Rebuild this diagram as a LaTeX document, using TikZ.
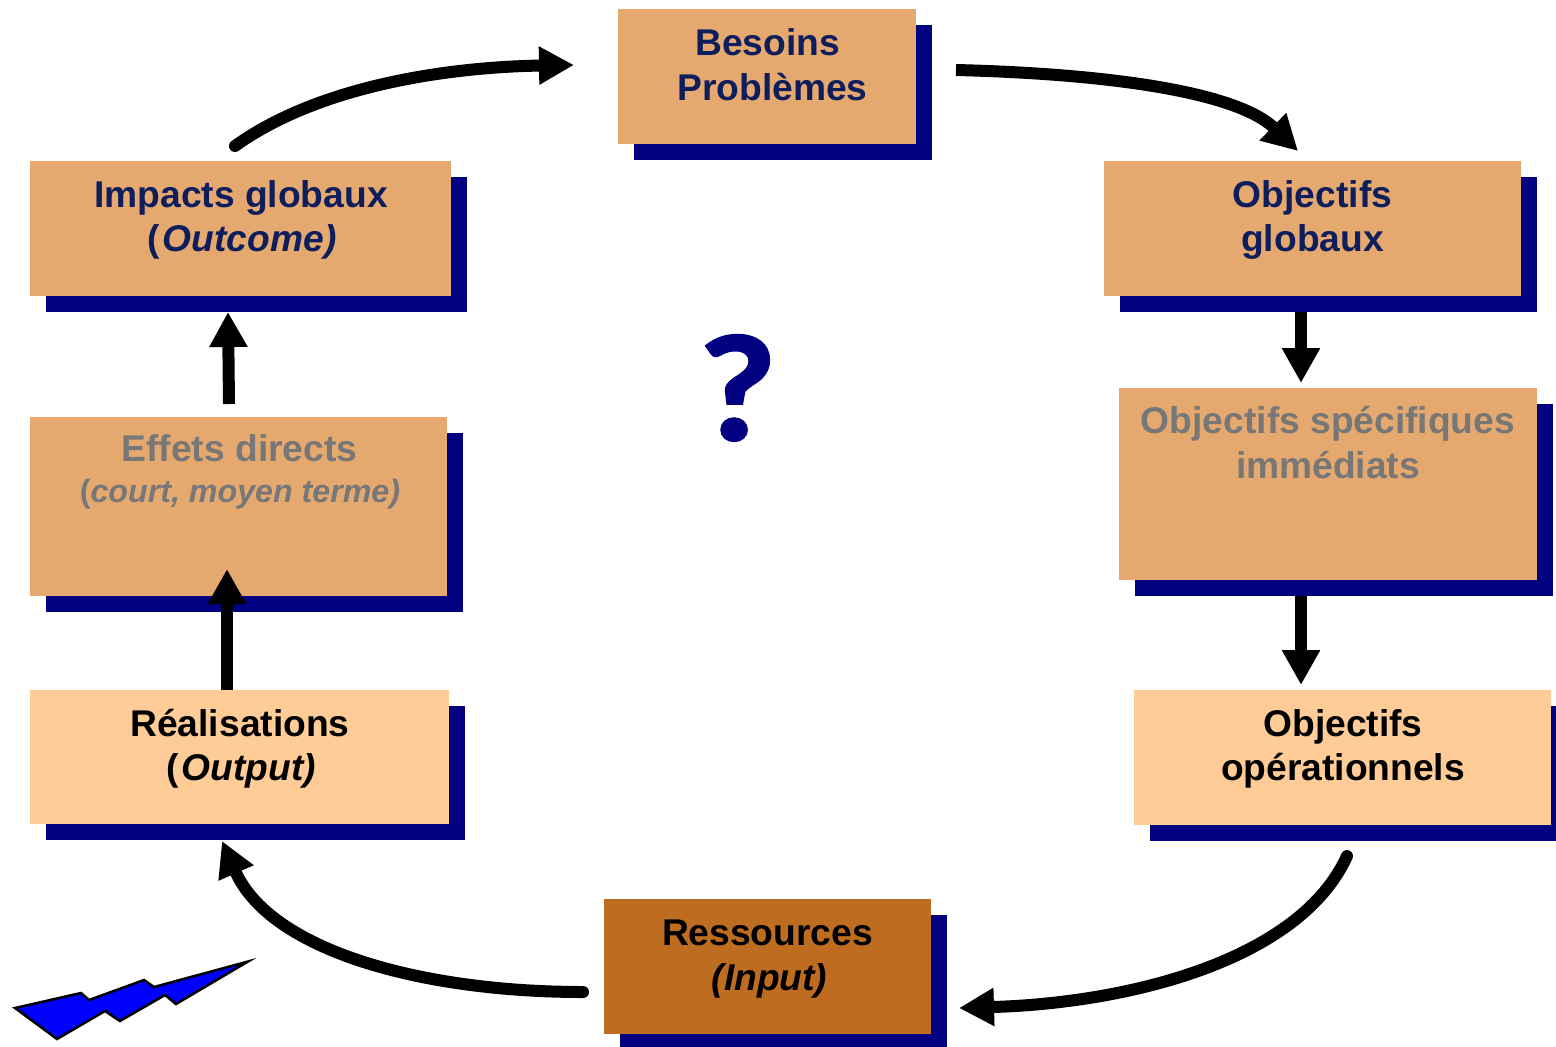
\documentclass[tikz,border=0pt]{standalone}
\usepackage{fontspec}
\setmainfont{Liberation Sans}
\newfontfamily\qfont[BoldFeatures={FakeBold=2.5,FakeStretch=1.12}]{Lato}
\usetikzlibrary{arrows.meta}
\definecolor{boxA}{HTML}{E5A96F}
\definecolor{boxB}{HTML}{FFCB96}
\definecolor{boxC}{HTML}{BE6D20}
\definecolor{navyshadow}{HTML}{000080}
\definecolor{txtA}{HTML}{0E1D5C}
\definecolor{txtG}{HTML}{777777}
\tikzset{x=1pt,y=-1pt,
 lab/.style={font=\bfseries\fontsize{37.2}{44.5}\selectfont,align=center,anchor=center,inner sep=0},
 conn/.style={line width=12pt,line cap=round,-{Triangle[length=35pt,width=36pt]}},
 connb/.style={line width=12pt,-{Triangle[length=35pt,width=36pt]}},
}
\begin{document}
\begin{tikzpicture}
\useasboundingbox (0,0) rectangle (1556,1047);
\newcommand{\mybox}[6]{%
 \fill[navyshadow] (#1+16,#2+16) rectangle (#3+16,#4+16);
 \fill[#5] (#1,#2) rectangle (#3,#4);
 \coordinate (#6) at (#1,#2);
}
\mybox{618}{9}{916}{144}{boxA}{bp}
\mybox{1104}{161}{1521}{296}{boxA}{og}
\mybox{1119}{388}{1537}{580}{boxA}{os}
\mybox{1134}{690}{1551}{825}{boxB}{oo}
\mybox{604}{899}{931}{1034}{boxC}{re}
\mybox{30}{690}{449}{824}{boxB}{rl}
\mybox{30}{417}{447}{596}{boxA}{ed}
\mybox{30}{161}{451}{296}{boxA}{ig}
\node[lab,text=txtA] (tbp) at (772.5,64.5) {Besoins\hspace*{10pt}\\Problèmes};
\node[lab,text=txtA] (tog) at (1312.5,220) {Objectifs\\globaux};
\node[lab,text=txtG] (tos) at (1328,442.5) {Objectifs spécifiques\\immédiats};
\node[lab,text=black] (too) at (1343,749) {Objectifs\\opérationnels};
\node[lab,text=black] (tre) at (768,959) {Ressources\hspace*{1pt}\\\hspace*{3pt}\itshape (Input)};
\node[lab,text=black] (trl) at (241,748.5) {Réalisations\hspace*{2pt}\\(\kern3pt\itshape Output)};
\node[lab,text=txtG] (ted) at (240,472) {Effets directs\hspace*{1pt}\\[-3.5pt]{\fontsize{32.2}{38}\selectfont(\itshape court, moyen terme)}};
\node[lab,text=txtA] (tig) at (242,220) {Impacts globaux\hspace*{2pt}\\(\kern3pt\itshape Outcome)};
\node[font=\qfont\bfseries\fontsize{142}{142}\selectfont,text=navyshadow,inner sep=0] (q) at (738,388) {?};
\coordinate (a1s) at (235,146); \coordinate (a1e) at (574,65);
\coordinate (a2s) at (956,70); \coordinate (a2e) at (1298,151);
\coordinate (a3s) at (1301,312); \coordinate (a3e) at (1301,383);
\coordinate (a4s) at (1301,596); \coordinate (a4e) at (1301,685);
\coordinate (a5s) at (1347,856); \coordinate (a5e) at (959,1008);
\coordinate (a6s) at (583,992); \coordinate (a6e) at (222,841);
\coordinate (a7s) at (227,690); \coordinate (a7e) at (227,569);
\coordinate (a8s) at (229,404); \coordinate (a8e) at (228,312);
\draw[conn] (a1s) .. controls (320,85) and (450,67) .. (a1e);
\draw[connb] (a2s) .. controls (1115,74) and (1238,93) .. (a2e);
\draw[connb] (a3s) -- (a3e);
\draw[connb] (a4s) -- (a4e);
\draw[conn] (a5s) .. controls (1300,960) and (1130,1003) .. (a5e);
\draw[conn] (a6s) .. controls (420,992) and (270,950) .. (a6e);
\draw[connb] (a7s) -- (a7e);
\draw[connb] (a8s) -- (a8e);
\fill[blue,draw=black,line width=2.5pt,miter limit=20] (248,961.5) -- (176,1004) -- (165,995) -- (120,1021) -- (105,1011) -- (57,1039) -- (15,1008) -- (81,993) -- (89,1000) -- (144,980) -- (154,987) -- cycle;
\end{tikzpicture}
\end{document}
